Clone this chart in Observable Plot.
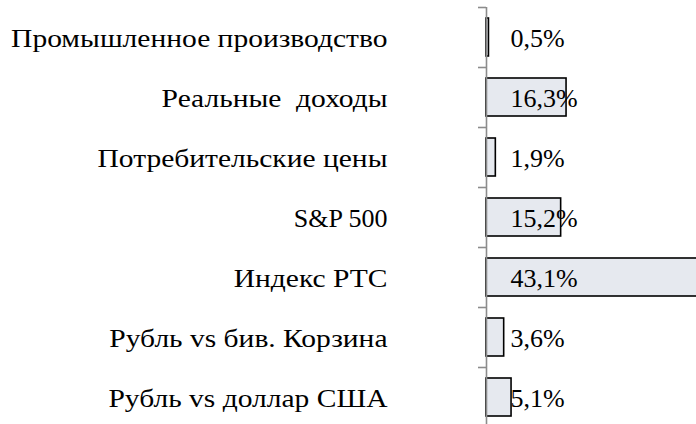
<!DOCTYPE html>
<html>
<head>
<meta charset="utf-8">
<script src="https://cdn.jsdelivr.net/npm/d3@7"></script>
<script src="https://cdn.jsdelivr.net/npm/@observablehq/plot@0.6"></script>
<style>
  html, body { margin: 0; padding: 0; background: #fff; overflow: hidden; }
</style>
</head>
<body>
<div id="chart"></div>
<script>
const categories = [
  "Промышленное производство",
  "Реальные  доходы",
  "Потребительские цены",
  "S&P 500",
  "Индекс РТС",
  "Рубль vs бив. Корзина",
  "Рубль vs доллар США"
];
const values = [0.5, 16.3, 1.9, 15.2, 43.1, 3.6, 5.1];

const data = categories.map((name, i) => ({name, value: values[i]}));
const fmt = v => v.toFixed(1).replace(".", ",") + "%";
const serif = "'Liberation Serif', Tinos, 'Times New Roman', serif";

const chart = Plot.plot({
  width: 696,
  height: 424,
  marginLeft: 486,
  marginRight: 0,
  marginTop: 7,
  marginBottom: 0,
  style: {background: "#fff", overflow: "hidden", fontFamily: serif},
  x: {domain: [0, 45], range: [486, 707], axis: null},
  y: {domain: categories, range: [7, 427], paddingInner: 0.36, paddingOuter: 0.18, label: null},
  marks: [
    Plot.barX(data, {x: "value", y: "name", fill: "#e6e9ef", stroke: "#000", strokeWidth: 1.6}),
    Plot.ruleX([0], {stroke: "#8c8c8c", strokeWidth: 1.6}),
    Plot.axisY({tickSize: 8, tickFormat: () => "", dy: -30, stroke: "#8c8c8c", strokeWidth: 1.6, label: null}),
    Plot.axisY({tickSize: 0, tickPadding: 99, dy: 1, fontSize: 26, fill: "#000", label: null}),
    Plot.text(data, {x: 0, y: "name", text: d => fmt(d.value), dx: 24, dy: 1, textAnchor: "start", fontSize: 26, fill: "#000"})
  ]
});
document.getElementById("chart").appendChild(chart);
d3.select(chart).selectAll("text").each(function() {
  if (/[А-яЁё]/.test(this.textContent)) {
    const w = this.getComputedTextLength();
    this.setAttribute("textLength", (w * 1.135).toFixed(1));
    this.setAttribute("lengthAdjust", "spacingAndGlyphs");
  }
});
</script>
</body>
</html>
